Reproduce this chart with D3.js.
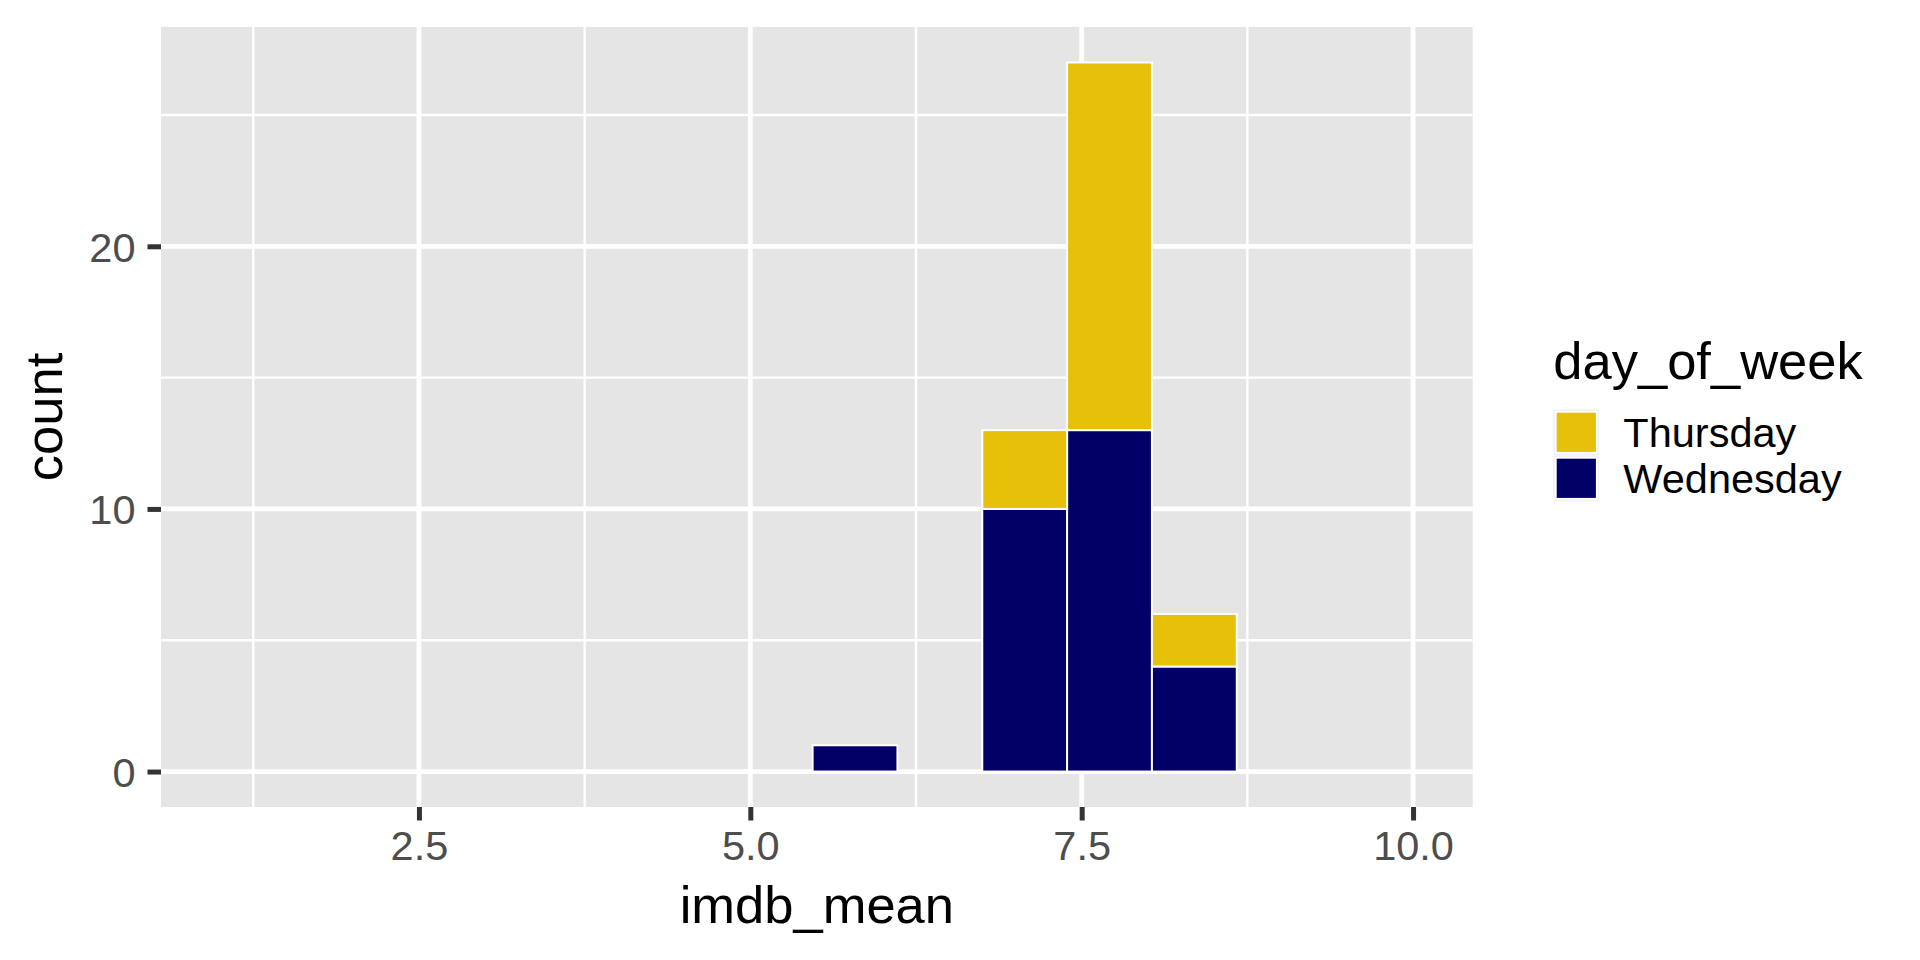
<html>
<head>
<title>imdb_mean histogram</title>
<script src="https://d3js.org/d3.v7.min.js"></script>
<style>
body { margin: 0; background: #fff; }
text { font-family: "Liberation Sans", Arial, sans-serif; }
</style>
</head>
<body>
<div id="chart"></div>
<script>
// histogram bins (imdb_mean), counts per day
var binLo = [5.47, 6.75, 7.39, 8.03];
var binHi = [6.11, 7.39, 8.03, 8.67];
var wednesday = [1, 10, 13, 4];
var thursday = [0, 3, 14, 2];

var days = ["Thursday", "Wednesday"];
var dayColors = {Thursday: "#E7C00A", Wednesday: "#000066"};

var xMajor = [2.5, 5.0, 7.5, 10.0];
var xMinor = [1.25, 3.75, 6.25, 8.75];
var yMajor = [0, 10, 20];
var yMinor = [5, 15, 25];

var W = 1920, H = 960;
var panel = {left: 161, right: 1472.7, top: 27, bottom: 807};

var x = d3.scaleLinear().domain([0.554, 10.45]).range([panel.left, panel.right]);
var y = d3.scaleLinear().domain([-1.35, 28.35]).range([panel.bottom, panel.top]);

var svg = d3.select("#chart").append("svg")
    .attr("width", W)
    .attr("height", H);

// panel background
svg.append("rect")
    .attr("x", panel.left).attr("y", panel.top)
    .attr("width", panel.right - panel.left)
    .attr("height", panel.bottom - panel.top)
    .attr("fill", "#E5E5E5");

// grid
var grid = svg.append("g");
function vlines(vals, w) {
  grid.selectAll(null).data(vals).enter().append("line")
    .attr("x1", function(d) { return x(d); }).attr("x2", function(d) { return x(d); })
    .attr("y1", panel.top).attr("y2", panel.bottom)
    .attr("stroke", "#fff").attr("stroke-width", w);
}
function hlines(vals, w) {
  grid.selectAll(null).data(vals).enter().append("line")
    .attr("y1", function(d) { return y(d); }).attr("y2", function(d) { return y(d); })
    .attr("x1", panel.left).attr("x2", panel.right)
    .attr("stroke", "#fff").attr("stroke-width", w);
}
vlines(xMinor, 2.4); hlines(yMinor, 2.4);
vlines(xMajor, 4.8); hlines(yMajor, 4.8);

// stacked bars
var rows = binLo.map(function(lo, i) {
  return {lo: lo, hi: binHi[i], Wednesday: wednesday[i], Thursday: thursday[i]};
});
var stack = d3.stack().keys(["Wednesday", "Thursday"]);
var layers = stack(rows);

svg.append("g").selectAll("g")
  .data(layers).enter().append("g")
    .attr("fill", function(d) { return dayColors[d.key]; })
  .selectAll("rect")
  .data(function(d) { return d; }).enter().append("rect")
    .attr("x", function(d) { return x(d.data.lo); })
    .attr("width", function(d) { return x(d.data.hi) - x(d.data.lo); })
    .attr("y", function(d) { return y(d[1]); })
    .attr("height", function(d) { return y(d[0]) - y(d[1]); })
    .attr("stroke", "#fff")
    .attr("stroke-width", 2);

// axes
var xAxis = svg.append("g")
    .attr("transform", "translate(0," + panel.bottom + ")")
    .call(d3.axisBottom(x).tickValues(xMajor).tickFormat(d3.format(".1f"))
      .tickSize(13.5).tickPadding(10));
var yAxis = svg.append("g")
    .attr("transform", "translate(" + panel.left + ",0)")
    .call(d3.axisLeft(y).tickValues(yMajor).tickFormat(d3.format("d"))
      .tickSize(13.5).tickPadding(12));

[xAxis, yAxis].forEach(function(a) {
  a.select(".domain").remove();
  a.selectAll(".tick line").attr("stroke", "#333333").attr("stroke-width", 5);
  a.selectAll(".tick text")
    .attr("fill", "#4D4D4D")
    .style("font-size", "41.5px")
    .style("font-family", "'Liberation Sans', Arial, sans-serif");
});
yAxis.selectAll(".tick text").attr("dy", "0.36em");

// axis titles
svg.append("text")
    .attr("x", (panel.left + panel.right) / 2)
    .attr("y", 923)
    .attr("text-anchor", "middle")
    .style("font-size", "52.5px")
    .text("imdb_mean");

svg.append("text")
    .attr("transform", "translate(61.7," + (panel.top + panel.bottom) / 2 + ") rotate(-90)")
    .attr("text-anchor", "middle")
    .style("font-size", "52.5px")
    .text("count");

// legend
var legend = svg.append("g").attr("transform", "translate(1553.3,0)");
legend.append("text")
    .attr("x", 0).attr("y", 379.3)
    .style("font-size", "52.5px")
    .text("day_of_week");

var keys = legend.selectAll("g.key").data(days).enter().append("g")
    .attr("class", "key")
    .attr("transform", function(d, i) { return "translate(0," + (409.3 + i * 46) + ")"; });
keys.append("rect")
    .attr("width", 46).attr("height", 46)
    .attr("fill", "#F2F2F2");
keys.append("rect")
    .attr("x", 2.5).attr("y", 2.5)
    .attr("width", 41).attr("height", 41)
    .attr("fill", function(d) { return dayColors[d]; })
    .attr("stroke", "#fff")
    .attr("stroke-width", 1.8);
keys.append("text")
    .attr("x", 70).attr("y", 23)
    .attr("dy", "0.36em")
    .style("font-size", "41.5px")
    .text(function(d) { return d; });
</script>
</body>
</html>
